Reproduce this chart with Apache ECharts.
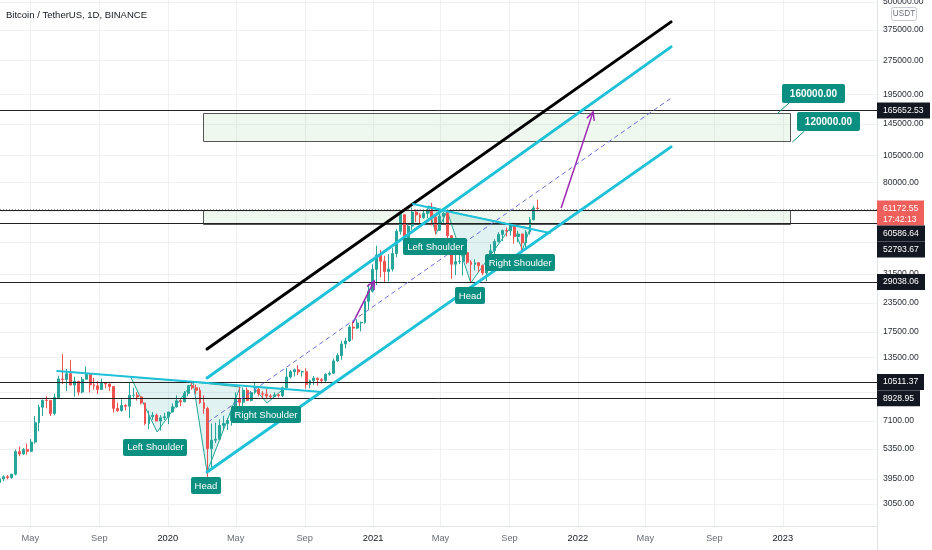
<!DOCTYPE html>
<html>
<head>
<meta charset="utf-8">
<title>Bitcoin / TetherUS, 1D, BINANCE</title>
<script src="https://cdn.jsdelivr.net/npm/echarts/dist/echarts.min.js"></script>
<style>html,body{margin:0;padding:0;background:#fff;}#c{width:932px;height:550px;}</style>
</head>
<body>
<div id="c"></div>
<script>
// ---------- DATA (weekly candles: week start, open, high, low, close) ----------
const candles2019 = [
  ['2019-03-04',3790,3980,3700,3940],['2019-03-11',3940,4080,3840,4020],['2019-03-18',4020,4090,3920,3990],
  ['2019-03-25',3990,4140,3940,4130],['2019-04-01',4130,5300,4080,5190],['2019-04-08',5190,5460,4950,5070],
  ['2019-04-15',5070,5380,5030,5310],['2019-04-22',5310,5630,5040,5210],['2019-04-29',5210,5900,5160,5720],
  ['2019-05-06',5720,7450,5620,6960],['2019-05-13',6960,8350,6400,8150],['2019-05-20',8150,8800,7450,8740],
  ['2019-05-27',8740,9100,8050,8730],['2019-06-03',8730,8750,7450,7650],['2019-06-10',7650,9350,7500,8990],
  ['2019-06-17',8990,11200,8950,10850],['2019-06-24',10850,13970,10300,10800],['2019-07-01',10800,12000,9600,11450],
  ['2019-07-08',11450,13180,10900,10200],['2019-07-15',10200,11100,9070,10600],['2019-07-22',10600,10650,9170,9500],
  ['2019-07-29',9500,11080,9380,10820],['2019-08-05',10820,12320,10800,11370],['2019-08-12',11370,11450,9460,10230],
  ['2019-08-19',10230,10950,9740,10120],['2019-08-26',10120,10620,9320,9760],['2019-09-02',9760,10900,9740,10400],
  ['2019-09-09',10400,10480,9880,10310],['2019-09-16',10310,10360,9600,10040],['2019-09-23',10040,10050,7710,8050],
  ['2019-09-30',8050,8530,7760,7870],['2019-10-07',7870,8830,7790,8290],['2019-10-14',8290,8400,7880,8230],
  ['2019-10-21',8230,10540,7300,9200],['2019-10-28',9200,9940,8970,9200],['2019-11-04',9200,9500,8710,9040],
  ['2019-11-11',9040,9090,8370,8500],['2019-11-18',8500,8530,6790,6900],['2019-11-25',6900,7870,6520,7400],
  ['2019-12-02',7400,7750,7150,7510],['2019-12-09',7510,7640,7080,7080],['2019-12-16',7080,7520,6430,7320],
  ['2019-12-23',7320,7700,7150,7390],['2019-12-30',7390,7580,6860,7760]
];
const candles2020 = [
  ['2020-01-06',7760,8470,7740,8180],['2020-01-13',8180,9190,8110,8700],['2020-01-20',8700,8800,8240,8610],
  ['2020-01-27',8610,9600,8560,9370],['2020-02-03',9370,10150,9100,10150],['2020-02-10',10150,10500,9730,9920],
  ['2020-02-17',9920,10250,9300,9670],['2020-02-24',9670,9960,8410,8530],['2020-03-02',8530,9190,7630,8040],
  ['2020-03-09',8040,8180,3782,5360],['2020-03-16',5360,6900,4440,5830],['2020-03-23',5830,6970,5670,5880],
  ['2020-03-30',5880,7200,5860,6770],['2020-04-06',6770,7470,6450,6900],['2020-04-13',6900,7300,6460,7120],
  ['2020-04-20',7120,7800,6750,7700],['2020-04-27',7700,9470,7650,8890],['2020-05-04',8890,9990,8120,8570],
  ['2020-05-11',8570,9950,8200,9680],['2020-05-18',9680,9950,8700,8720],['2020-05-25',8720,9600,8630,9450],
  ['2020-06-01',9450,10430,9290,9750],['2020-06-08',9750,9990,9100,9340],['2020-06-15',9340,9590,8900,9300],
  ['2020-06-22',9300,9800,8830,9120],['2020-06-29',9120,9300,8900,9070],['2020-07-06',9070,9470,9050,9240],
  ['2020-07-13',9240,9340,9000,9170],['2020-07-20',9170,10050,9030,9930],['2020-07-27',9930,12120,9900,11070],
  ['2020-08-03',11070,11900,10900,11680],['2020-08-10',11680,12070,11130,11910],['2020-08-17',11910,12480,11290,11650],
  ['2020-08-24',11650,11800,11120,11680],['2020-08-31',11680,12090,9850,10250],['2020-09-07',10250,10770,9880,10680],
  ['2020-09-14',10680,11180,10200,10940],['2020-09-21',10940,10990,10130,10780],['2020-09-28',10780,10950,10370,10670],
  ['2020-10-05',10670,11490,10530,11380],['2020-10-12',11380,11720,11200,11500],['2020-10-19',11500,13350,11410,13030],
  ['2020-10-26',13030,14100,12900,13760],['2020-11-02',13760,15960,13200,15480],['2020-11-09',15480,16480,14800,15960],
  ['2020-11-16',15960,18800,15790,18370],['2020-11-23',18370,19420,16190,18180],['2020-11-30',18180,19920,18000,19150],
  ['2020-12-07',19150,19420,17580,19270],['2020-12-14',19270,24300,19000,23860],['2020-12-21',23860,28420,21820,26450],
  ['2020-12-28',26450,34780,26050,33000]
];
const candles2021 = [
  ['2021-01-04',33000,41950,28130,38150],['2021-01-11',38150,40100,30420,35830],['2021-01-18',35830,37850,28850,32260],
  ['2021-01-25',32260,38530,29240,33090],['2021-02-01',33090,40950,32300,38800],['2021-02-08',38800,49720,37350,48580],
  ['2021-02-15',48580,58350,47000,57490],['2021-02-22',57490,57530,44890,45140],['2021-03-01',45140,52640,45000,51200],
  ['2021-03-08',51200,61780,49300,59020],['2021-03-15',59020,60630,53270,57350],['2021-03-22',57350,58420,50430,55780],
  ['2021-03-29',55780,60200,55130,58200],['2021-04-05',58200,61440,55500,59800],['2021-04-12',59800,64850,51500,56150],
  ['2021-04-19',56150,57520,47000,49060],['2021-04-26',49060,58460,48750,56600],['2021-05-03',56600,58980,52900,58240],
  ['2021-05-10',58240,59600,43820,46420],['2021-05-17',46420,46650,30000,34750],['2021-05-24',34750,40900,31100,35680],
  ['2021-05-31',35680,39480,34800,35800],['2021-06-07',35800,39500,31000,39100],['2021-06-14',39100,41330,34800,35500],
  ['2021-06-21',35500,36200,28800,34700],['2021-06-28',34700,36600,32700,35300],['2021-07-05',35300,35400,32100,34250],
  ['2021-07-12',34250,34680,31100,31800],['2021-07-19',31800,35450,29280,35400],['2021-07-26',35400,42600,35200,39850],
  ['2021-08-02',39850,44800,37350,43800],['2021-08-09',43800,48150,43350,47050],['2021-08-16',47050,49400,43950,48950],
  ['2021-08-23',48950,50500,46100,48800],['2021-08-30',48800,52950,46500,51750],['2021-09-06',51750,52950,42800,46000],
  ['2021-09-13',46000,48850,43400,47250],['2021-09-20',47250,47400,39600,43200],['2021-09-27',43200,49200,40750,48200],
  ['2021-10-04',48200,56100,46900,54650],['2021-10-11',54650,62950,54200,61530],['2021-10-18',61530,67000,59500,61172.55]
];

// right-axis tick labels, extra grid-only ticks, time ticks
const priceTicks = [500000, 375000, 275000, 195000, 145000, 105000, 80000, 31500, 23500, 17500, 13500, 7100, 5350, 3950, 3050];
const gridOnlyTicks = [59500, 43500, 9500];
const timeTicks = [
  ['2019-05-01','May'],['2019-09-01','Sep'],['2020-01-01','2020'],['2020-05-01','May'],['2020-09-01','Sep'],
  ['2021-01-01','2021'],['2021-05-01','May'],['2021-09-01','Sep'],['2022-01-01','2022'],['2022-05-01','May'],
  ['2022-09-01','Sep'],['2023-01-01','2023']
];

// horizontal levels and last price
const levels = [165652.53, 60586.64, 52793.67, 29038.06, 10511.37, 8928.95];
const lastPrice = 61172.55;
const countdown = '17:42:13';

// drawings (date, price)
const channelTop   = [['2020-03-11', 14700], ['2022-06-16', 406900]];
const channelUpper = [['2020-03-11', 10960], ['2022-06-16', 315700]];
const channelLower = [['2020-03-11', 4220],  ['2022-06-16', 114400]];
const channelMid   = [['2020-03-13', 7010],  ['2022-06-14', 186200]];
const neckline2019 = [['2019-06-18', 11770], ['2020-10-02', 9510]];
const neckline2021 = [['2021-03-13', 64120], ['2021-11-12', 47770]];
const arrows = [
  [['2020-11-26', 19160], ['2021-01-03', 29340]],
  [['2021-12-02', 61580], ['2022-01-28', 163200]]
];
const patterns = [
  [['2019-10-27', 11070], ['2019-12-13', 6335], ['2020-02-15', 10525]],
  [['2020-02-15', 10525], ['2020-03-11', 4220], ['2020-05-09', 10000]],
  [['2020-06-01', 10000], ['2020-06-26', 8500], ['2020-07-25', 9800]],
  [['2021-04-09', 62830], ['2021-04-23', 47280], ['2021-05-13', 59720]],
  [['2021-05-13', 59720], ['2021-06-24', 28750], ['2021-09-06', 51830]],
  [['2021-09-06', 51830], ['2021-09-24', 40200], ['2021-10-08', 50260]]
];
const patternLabels = [
  ['Left Shoulder', '2019-12-10', 5440], ['Head', '2020-03-09', 3662], ['Right Shoulder', '2020-06-24', 7530],
  ['Left Shoulder', '2021-04-22', 41450], ['Head', '2021-06-23', 25200], ['Right Shoulder', '2021-09-20', 35230]
];
const zones = [
  ['2020-03-04', '2023-01-14', 161000, 121000],
  ['2020-03-04', '2023-01-14', 60586.64, 52793.67]
];
const callouts = [
  ['160000.00', '2022-12-22', 160000],
  ['120000.00', '2023-01-18', 120000]
];

// ---------- HELPERS ----------
const FONT = '"Liberation Sans", Arial, sans-serif';
const DAY = 86400000;
function T(s) { const p = s.split('-').map(Number); return Date.UTC(p[0], p[1] - 1, p[2]); }
function pt(q) { return [T(q[0]), q[1]]; }
const mctx = document.createElement('canvas').getContext('2d');
function textWidth(t, font) { mctx.font = font; return mctx.measureText(t).width; }
function textEl(t, x, y, fill, font, align, z2) {
  return { type: 'text', z2: z2 || 1, style: { text: t, x: x, y: y, fill: fill, font: font,
    align: align, verticalAlign: 'middle', textAlign: align, textVerticalAlign: 'middle' } };
}

const X_MIN = T('2019-03-08'), X_MAX = T('2023-06-18');
const Y_MIN = 2440, Y_MAX = 508000;

const allCandles = candles2019.concat(candles2020, candles2021);
const candleData = allCandles.map(r => [T(r[0]) + 3.5 * DAY, r[1], r[4], r[3], r[2]]);

const CYAN = '#1fc1d9';
const TEAL = '#0b8f80';

function trend(points, color, width, type, z) {
  return { type: 'line', data: points.map(pt), showSymbol: false, symbol: 'none', silent: true, z: z || 4,
    lineStyle: { color: color, width: width, type: type || 'solid', cap: 'round' } };
}

const chart = echarts.init(document.getElementById('c'), null, { renderer: 'canvas', width: 932, height: 550 });

const option = {
  animation: false,
  backgroundColor: '#ffffff',
  title: { text: 'Bitcoin / TetherUS, 1D, BINANCE', left: 6, top: 10, padding: 0,
    textStyle: { fontSize: 9.5, fontWeight: 'normal', color: '#131722', fontFamily: FONT } },
  grid: { left: 0, right: 55, top: 0, bottom: 24, containLabel: false },
  xAxis: { type: 'time', min: X_MIN, max: X_MAX, show: false },
  yAxis: { type: 'log', min: Y_MIN, max: Y_MAX, show: false },
  series: [
    // grid lines
    { type: 'custom', silent: true, z: 0, clip: false, data: [[X_MIN, 10000]],
      renderItem: function (params, api) {
        const cs = params.coordSys, ch = [];
        priceTicks.concat(gridOnlyTicks).forEach(v => {
          const y = Math.round(api.coord([X_MIN, v])[1]) + 0.5;
          ch.push({ type: 'line', shape: { x1: cs.x, y1: y, x2: cs.x + cs.width, y2: y }, style: { stroke: '#eef0f4', lineWidth: 1 } });
        });
        timeTicks.forEach(tk => {
          const x = Math.round(api.coord([T(tk[0]), 10000])[0]) + 0.5;
          ch.push({ type: 'line', shape: { x1: x, y1: cs.y, x2: x, y2: cs.y + cs.height }, style: { stroke: '#eef0f4', lineWidth: 1 } });
        });
        return { type: 'group', children: ch };
      } },
    // zones
    { type: 'custom', silent: true, z: 1, data: zones.map((zn, i) => [T(zn[0]), zn[2], i]),
      renderItem: function (params, api) {
        const zn = zones[api.value(2)];
        const p1 = api.coord([T(zn[0]), zn[2]]), p2 = api.coord([T(zn[1]), zn[3]]);
        const x = Math.round(p1[0]) + 0.5, y = Math.round(p1[1]) + 0.5;
        return { type: 'rect', shape: { x: x, y: y, width: Math.round(p2[0] - p1[0]), height: Math.round(p2[1] - p1[1]) },
          style: { fill: 'rgba(76,175,80,0.09)', stroke: '#555555', lineWidth: 1 } };
      } },
    // head & shoulders fills
    { type: 'custom', silent: true, z: 1, data: patterns.map((p, i) => [T(p[0][0]), p[0][1], i]),
      renderItem: function (params, api) {
        const pts = patterns[api.value(2)].map(q => api.coord(pt(q)));
        return { type: 'polygon', shape: { points: pts }, style: { fill: 'rgba(38,166,154,0.14)', stroke: '#22a699', lineWidth: 1 } };
      } },
    // candles
    { type: 'candlestick', silent: true, z: 2, data: candleData, encode: { x: 0, y: [1, 2, 3, 4] },
      barWidth: 2.4,
      itemStyle: { color: '#26a69a', color0: '#ef5350', borderColor: '#26a69a', borderColor0: '#ef5350', borderWidth: 1 } },
    // levels
    { type: 'custom', silent: true, z: 3, data: levels.map((v, i) => [X_MIN, v, i]),
      renderItem: function (params, api) {
        const cs = params.coordSys;
        const y = Math.round(api.coord([X_MIN, levels[api.value(2)]])[1]) + 0.5;
        return { type: 'line', shape: { x1: cs.x, y1: y, x2: cs.x + cs.width, y2: y }, style: { stroke: '#222222', lineWidth: 1 } };
      } },
    { type: 'custom', silent: true, z: 3, data: [[X_MIN, lastPrice]],
      renderItem: function (params, api) {
        const cs = params.coordSys;
        const y = Math.round(api.coord([X_MIN, lastPrice])[1]) + 0.5;
        return { type: 'line', shape: { x1: cs.x, y1: y, x2: cs.x + cs.width, y2: y }, style: { stroke: '#9a9a9a', lineWidth: 1, lineDash: [1, 2] } };
      } },
    // trend lines
    trend(channelTop, '#000000', 3),
    trend(channelUpper, CYAN, 3),
    trend(channelLower, CYAN, 3),
    trend(channelMid, '#6a6fdc', 1, [4, 4]),
    trend(neckline2019, CYAN, 2),
    trend(neckline2021, CYAN, 2),
    // arrows
    { type: 'custom', silent: true, z: 4, data: arrows.map((a, i) => [T(a[0][0]), a[0][1], i]),
      renderItem: function (params, api) {
        const a = arrows[api.value(2)];
        const p1 = api.coord(pt(a[0])), p2 = api.coord(pt(a[1]));
        const ang = Math.atan2(p2[1] - p1[1], p2[0] - p1[0]);
        const L = 9, s = 0.45;
        const h1 = [p2[0] - L * Math.cos(ang - s), p2[1] - L * Math.sin(ang - s)];
        const h2 = [p2[0] - L * Math.cos(ang + s), p2[1] - L * Math.sin(ang + s)];
        return { type: 'group', children: [
          { type: 'line', shape: { x1: p1[0], y1: p1[1], x2: p2[0], y2: p2[1] }, style: { stroke: '#9c27b0', lineWidth: 1.5 } },
          { type: 'polyline', shape: { points: [h1, p2, h2] }, style: { stroke: '#9c27b0', lineWidth: 1.5, fill: 'none' } }
        ] };
      } },
    // pattern labels
    { type: 'custom', silent: true, z: 6, clip: false, data: patternLabels.map((l, i) => [T(l[1]), l[2], i]),
      renderItem: function (params, api) {
        const lab = patternLabels[api.value(2)];
        const c = api.coord([T(lab[1]), lab[2]]);
        const font = '9.5px ' + FONT;
        const w = Math.round(textWidth(lab[0], font) + 7), h = 17;
        return { type: 'group', children: [
          { type: 'rect', shape: { x: Math.round(c[0] - w / 2), y: Math.round(c[1] - h / 2), width: w, height: h, r: 2 }, style: { fill: TEAL } },
          textEl(lab[0], c[0], c[1] + 0.5, '#ffffff', font, 'center', 2)
        ] };
      } },
    // price callouts
    { type: 'custom', silent: true, z: 7, clip: false, data: callouts.map((c, i) => [T(c[1]), c[2], i]),
      renderItem: function (params, api) {
        const c = callouts[api.value(2)];
        const a = api.coord([T(c[1]), c[2]]);
        const font = 'bold 10px ' + FONT;
        const w = Math.round(textWidth(c[0], font) + 16), h = 19;
        const bx = Math.round(a[0] + 5), by = Math.round(a[1] - 11 - h);
        return { type: 'group', children: [
          { type: 'line', shape: { x1: a[0], y1: a[1], x2: a[0] + 12, y2: a[1] - 11 }, style: { stroke: TEAL, lineWidth: 1 } },
          { type: 'rect', shape: { x: bx, y: by, width: w, height: h, r: 2 }, style: { fill: TEAL } },
          textEl(c[0], bx + w / 2, by + h / 2 + 0.5, '#ffffff', font, 'center', 2)
        ] };
      } },
    // axes overlay: borders, labels, price boxes
    { type: 'custom', silent: true, z: 10, clip: false, data: [[X_MIN, 10000]],
      renderItem: function (params, api) {
        const cs = params.coordSys;
        const right = cs.x + cs.width, bottom = cs.y + cs.height;
        const H = api.getHeight();
        const ch = [];
        const tickFont = '8.6px ' + FONT;
        ch.push({ type: 'line', shape: { x1: 0, y1: bottom + 0.5, x2: right, y2: bottom + 0.5 }, style: { stroke: '#e0e3eb', lineWidth: 1 } });
        ch.push({ type: 'line', shape: { x1: right + 0.5, y1: 0, x2: right + 0.5, y2: H }, style: { stroke: '#e0e3eb', lineWidth: 1 } });
        timeTicks.forEach(tk => {
          const x = api.coord([T(tk[0]), 10000])[0];
          const isYear = /^\d{4}$/.test(tk[1]);
          ch.push(textEl(tk[1], x, bottom + 12, isYear ? '#131722' : '#6a6d78', '9.3px ' + FONT, 'center'));
        });
        priceTicks.forEach(v => {
          const y = api.coord([X_MIN, v])[1];
          ch.push(textEl(v.toFixed(2), right + 6, y, '#2a2e39', tickFont, 'left', 1));
        });
        // currency badge
        ch.push({ type: 'rect', z2: 3, shape: { x: 891.5, y: 7.5, width: 25, height: 13, r: 2 }, style: { fill: '#ffffff', stroke: '#c9cbd2', lineWidth: 1 } });
        ch.push(textEl('USDT', 904, 14.2, '#6a6d78', '8.2px ' + FONT, 'center', 4));
        // price boxes with overlap avoidance
        const boxes = levels.map(v => ({ v: v, lines: [v.toFixed(2)], bg: '#131722' }));
        boxes.push({ v: lastPrice, lines: [lastPrice.toFixed(2), countdown], bg: '#ef5f5c' });
        boxes.forEach(b => { b.y = api.coord([X_MIN, b.v])[1]; b.top = b.y - 8; b.h = b.lines.length === 2 ? 25 : 16; });
        boxes.sort((p, q) => p.top - q.top);
        let prevBottom = -Infinity;
        boxes.forEach(b => {
          if (b.top < prevBottom) b.top = prevBottom;
          prevBottom = b.top + b.h;
          const w = Math.round(textWidth(b.lines[0], tickFont) + 12);
          ch.push({ type: 'rect', z2: 5, shape: { x: right, y: b.top, width: w, height: b.h }, style: { fill: b.bg } });
          b.lines.forEach((ln, i) => ch.push(textEl(ln, right + 6, b.top + 8 + i * 11.5, '#ffffff', tickFont, 'left', 6)));
        });
        return { type: 'group', children: ch };
      } }
  ]
};
chart.setOption(option);
</script>
</body>
</html>
